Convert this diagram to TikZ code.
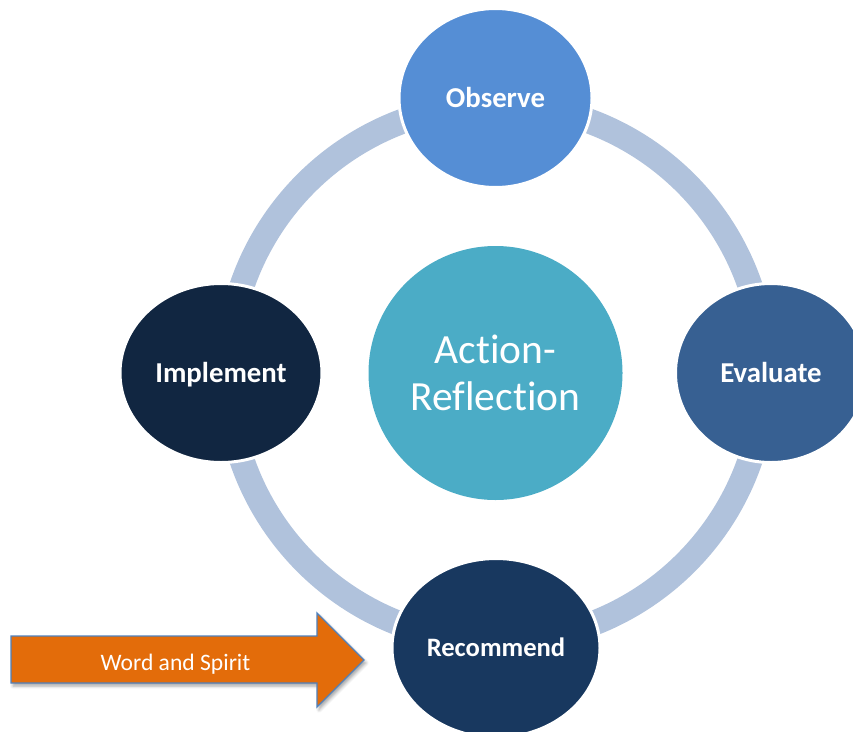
\documentclass[tikz,border=0pt]{standalone}
\usepackage{fontspec}
\setmainfont{Carlito}[Ligatures=NoCommon]
\usetikzlibrary{shapes.geometric,shadows.blur}
\definecolor{ringc}{RGB}{176,194,220}
\definecolor{obsc}{RGB}{85,142,213}
\definecolor{evac}{RGB}{55,96,146}
\definecolor{impc}{RGB}{17,38,65}
\definecolor{recc}{RGB}{24,56,95}
\definecolor{ctrc}{RGB}{75,172,198}
\definecolor{arrc}{RGB}{227,108,10}
\definecolor{arrb}{RGB}{79,129,189}
\tikzset{
  stage/.style={ellipse, draw=white, line width=3pt, inner sep=0pt,
    text=white, font=\fontsize{28.8}{34}\selectfont\bfseries,
    text height=18.5pt, text depth=0pt},
  hub/.style={circle, inner sep=0pt, minimum size=254, fill=ctrc, text=white,
    align=center, font=\fontsize{41.5}{47}\selectfont},
}
\begin{document}
\begin{tikzpicture}[x=1pt,y=-1pt]
\useasboundingbox (0,0) rectangle (853,731);
\coordinate (c) at (496,373);
\draw[ringc, line width=25pt] (c) circle[radius=268.5];
\node[hub] (ar) at (495.5,373) {Action-\\Reflection};
\node[stage, fill=obsc, minimum width=193, minimum height=179] (obs) at (495.5,98) {Observe};
\node[stage, fill=evac, minimum width=191, minimum height=179] (eva) at (771,373) {Evaluate};
\node[stage, fill=impc, minimum width=202, minimum height=179] (imp) at (221,373) {Implement};
\node[stage, fill=recc, minimum width=208, minimum height=179,
  font=\fontsize{26.6}{32}\selectfont\bfseries, text height=17pt] (rec) at (496,648) {Recommend};
\draw[fill=arrc, draw=arrb, line width=1.3pt,
  blur shadow={shadow xshift=2pt, shadow yshift=-3pt, shadow blur radius=3pt, shadow opacity=35}]
  (11,636) -- (317,636) -- (317,613) -- (364,660) -- (317,707) -- (317,683) -- (11,683) -- cycle;
\node[anchor=base, text=white, font=\fontsize{23.6}{28}\selectfont, inner sep=0pt] (ws) at (175.5,670) {Word and Spirit};
\end{tikzpicture}
\end{document}
